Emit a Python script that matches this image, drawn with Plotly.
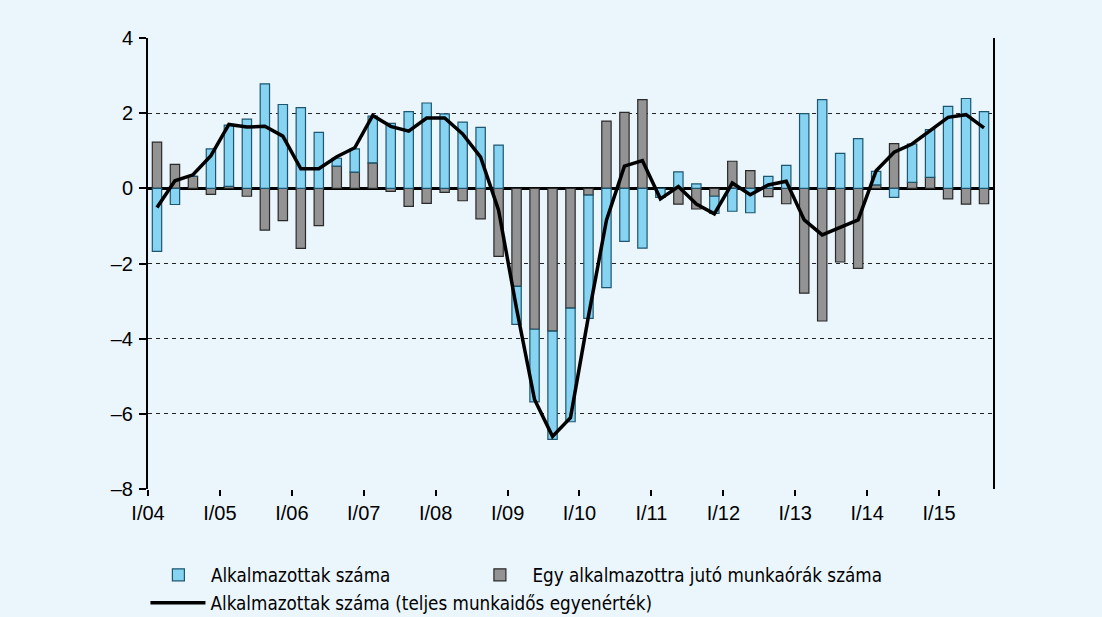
import plotly.graph_objects as go

quarters = [f"{q}/{y:02d}" for y in range(4, 16) for q in ["I", "II", "III", "IV"]][:47]

hours_per_employee = [1.23, 0.64, 0.32, -0.16, 0.05, -0.21, -1.11, -0.86, -1.60, -0.99,
                      0.59, 0.43, 0.68, -0.08, -0.48, -0.40, -0.11, -0.33, -0.81, -1.81,
                      -2.61, -3.75, -3.80, -3.19, -0.18, 1.79, 2.02, 2.36, 0.00, -0.42,
                      -0.55, -0.21, 0.72, 0.47, -0.22, -0.41, -2.79, -3.53, -1.96, -2.13,
                      0.09, 1.19, 0.16, 0.29, -0.28, -0.42, -0.41]

employees = [-1.68, -0.43, 0.00, 1.05, 1.63, 1.84, 2.78, 2.23, 2.15, 1.49,
             0.21, 0.62, 1.24, 1.73, 2.04, 2.27, 1.98, 1.76, 1.62, 1.15,
             -1.01, -1.93, -2.88, -3.02, -3.28, -2.64, -1.41, -1.59, -0.24, 0.44,
             0.12, -0.46, -0.61, -0.65, 0.32, 0.61, 1.99, 2.36, 0.93, 1.32,
             0.36, -0.24, 1.02, 1.27, 2.18, 2.39, 2.04]

fte_employees = [-0.51, 0.20, 0.36, 0.87, 1.70, 1.63, 1.65, 1.39, 0.52, 0.52,
                 0.84, 1.08, 1.94, 1.65, 1.52, 1.87, 1.87, 1.45, 0.83, -0.58,
                 -3.20, -5.62, -6.60, -6.10, -3.40, -0.85, 0.59, 0.74, -0.28, 0.05,
                 -0.42, -0.68, 0.14, -0.17, 0.09, 0.19, -0.84, -1.24, -1.04, -0.84,
                 0.47, 0.96, 1.18, 1.54, 1.89, 1.96, 1.61]

tick_labels = ["I/04", "I/05", "I/06", "I/07", "I/08", "I/09", "I/10", "I/11",
               "I/12", "I/13", "I/14", "I/15"]
y_ticks = [-8, -6, -4, -2, 0, 2, 4]

x_pos = [i + 0.5 for i in range(len(quarters))]
tick_pos = [4 * i for i in range(len(tick_labels))]

BG = "#EAF5FC"
TICK_FONT = dict(family="Liberation Sans, Arial, sans-serif", size=20, color="black")
LEG_FONT = dict(family="DejaVu Sans Condensed, Liberation Sans, sans-serif",
                size=18.7, color="black")


def legend_box(x, y):
    return dict(orientation="h", x=x, xanchor="left", y=y, yanchor="middle",
                font=LEG_FONT, bgcolor="rgba(0,0,0,0)", itemwidth=55,
                itemclick=False, itemdoubleclick=False)


fig = go.Figure()
fig.add_trace(go.Bar(
    x=x_pos, y=hours_per_employee, name="Egy alkalmazottra jutó munkaórák száma",
    width=0.52, marker=dict(color="#939393", line=dict(color="#2a2a2a", width=1.2)),
    legend="legend2", hoverinfo="y"))
fig.add_trace(go.Bar(
    x=x_pos, y=employees, name="Alkalmazottak száma",
    width=0.52, marker=dict(color="#86D3F2", line=dict(color="#1d5670", width=1.2)),
    legend="legend", hoverinfo="y"))
fig.add_trace(go.Scatter(
    x=x_pos, y=fte_employees, mode="lines",
    name="Alkalmazottak száma (teljes munkaidős egyenérték)",
    line=dict(color="black", width=3.5), legend="legend3"))

fig.update_layout(
    width=1102, height=617,
    barmode="relative",
    paper_bgcolor=BG, plot_bgcolor=BG,
    margin=dict(l=148, r=109, t=38, b=128, autoexpand=False),
    showlegend=True,
    legend=legend_box(-0.0025, -0.191),
    legend2=legend_box(0.378, -0.191),
    legend3=legend_box(-0.003, -0.253),
)

fig.update_xaxes(
    range=[0, 47], tickmode="array", tickvals=tick_pos, ticktext=tick_labels,
    ticks="outside", ticklen=6, tickwidth=2, tickcolor="black",
    showgrid=False, zeroline=False, showline=False, tickfont=TICK_FONT,
)
fig.update_yaxes(
    range=[-8, 4], tickmode="array", tickvals=y_ticks,
    ticktext=[("\u2013" + str(-v)) if v < 0 else str(v) for v in y_ticks],
    ticks="outside", ticklen=7, tickwidth=2, tickcolor="black",
    showline=True, linecolor="black", linewidth=2, mirror=True,
    showgrid=True, gridcolor="#222222", gridwidth=1, griddash="4px,4px",
    zeroline=True, zerolinecolor="black", zerolinewidth=2.5,
    tickfont=TICK_FONT, ticklabelstandoff=2,
)

fig.write_html("out.html", config={"displayModeBar": False},
               post_script="document.body.style.margin='0px';")
